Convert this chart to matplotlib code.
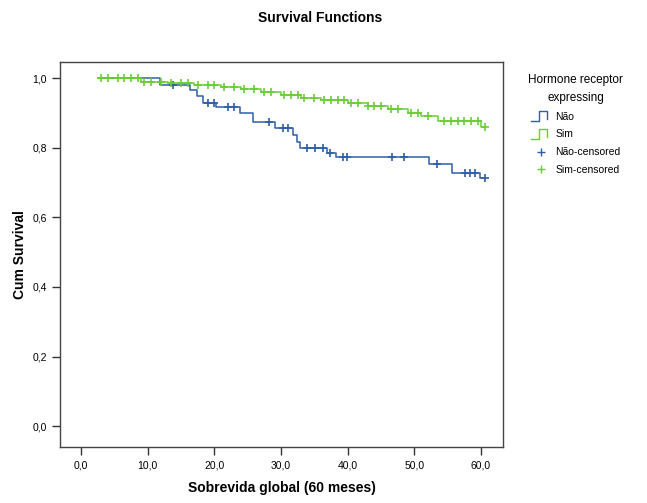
import numpy as np
import matplotlib
matplotlib.use('Agg')
import matplotlib.pyplot as plt
from matplotlib.lines import Line2D
from matplotlib.legend_handler import HandlerBase
from matplotlib.ticker import FuncFormatter

plt.rcParams['font.family'] = ['Liberation Sans', 'DejaVu Sans']

# Kaplan-Meier steps (time in months, cum survival)
nao_times = [2.7, 11.8, 16.3, 17.4, 18.3, 20.3, 23.8, 25.8, 29.1, 31.8, 32.4, 32.8,
             36.9, 38.2, 52.2, 55.6, 59.8, 60.6]
nao_surv = [1.0, 0.980, 0.966, 0.948, 0.928, 0.917, 0.899, 0.874, 0.856, 0.836, 0.816, 0.799,
            0.784, 0.772, 0.753, 0.727, 0.712, 0.712]
nao_censored = [13.8, 19.0, 20.0, 22.0, 23.0, 28.2, 30.3, 31.0, 33.9, 35.1, 36.3, 37.3,
                39.3, 39.9, 46.6, 48.4, 53.4, 57.6, 58.3, 59.1, 60.6]

sim_times = [2.7, 9.0, 13.0, 17.0, 21.0, 24.0, 27.0, 30.0, 33.0, 36.0, 40.0, 43.0,
             46.0, 49.0, 51.0, 53.5, 60.0, 60.6]
sim_surv = [1.0, 0.990, 0.985, 0.980, 0.975, 0.968, 0.960, 0.952, 0.944, 0.936, 0.928, 0.919,
            0.910, 0.900, 0.890, 0.876, 0.860, 0.860]
sim_censored = [3.0, 4.0, 5.5, 6.5, 7.5, 8.5, 9.5, 10.5, 12.0, 13.5, 15.0, 16.0, 17.5, 19.0,
                20.0, 21.5, 23.0, 24.5, 26.0, 27.5, 28.5, 30.5, 31.5, 32.5, 33.5, 35.0, 36.5,
                37.5, 38.5, 39.5, 40.5, 41.5, 43.0, 44.0, 45.0, 46.5, 47.5, 49.5, 50.5, 52.0,
                54.5, 55.5, 56.5, 57.5, 58.5, 59.5, 60.6]

BLUE = '#2f5ea8'
GREEN = '#6acd35'


def surv_at(times, surv, t):
    idx = np.searchsorted(times, t, side='right') - 1
    return np.asarray(surv)[idx]


class StepHandler(HandlerBase):
    def create_artists(self, legend, orig_handle, xdescent, ydescent, width, height, fontsize, trans):
        h = height * 1.2
        xs = [0, 0.4 * width, 0.4 * width, 0.85 * width, 0.85 * width]
        ys = [-0.2 * h, -0.2 * h, h, h, 0.1 * h]
        ln = Line2D(xs, ys, color=orig_handle.get_color(), lw=1.0, transform=trans)
        return [ln]


fig = plt.figure(figsize=(6.47, 5.03), dpi=100)
ax = fig.add_axes([0.0927, 0.1113, 0.6847, 0.7654])

for times, surv, cens, col in [(nao_times, nao_surv, nao_censored, BLUE),
                               (sim_times, sim_surv, sim_censored, GREEN)]:
    ax.step(times, surv, where='post', color=col, lw=1.1)
    ax.plot(cens, surv_at(times, surv, cens), linestyle='none', marker='+',
            color=col, markersize=6, mew=1.2)

ax.set_xlim(-3.15, 63.3)
ax.set_ylim(-0.06, 1.046)
ax.set_xticks(np.arange(0, 61, 10))
ax.set_yticks(np.arange(0, 1.01, 0.2))
comma = FuncFormatter(lambda v, p: f'{v:.1f}'.replace('.', ','))
ax.xaxis.set_major_formatter(comma)
ax.yaxis.set_major_formatter(comma)
ax.tick_params(direction='out', length=6, width=1.0, labelsize=7.5, color='#333333')
for sp in ax.spines.values():
    sp.set_color('#444444')
    sp.set_linewidth(1.0)

ax.set_xlabel('Sobrevida global (60 meses)', fontsize=10, fontweight='bold', labelpad=8)
ax.set_ylabel('Cum Survival', fontsize=10, fontweight='bold', labelpad=4)
fig.text(0.495, 0.965, 'Survival Functions', ha='center', va='center',
         fontsize=10, fontweight='bold')

handles = [Line2D([], [], color=BLUE), Line2D([], [], color=GREEN),
           Line2D([], [], color=BLUE, marker='+', linestyle='none', markersize=6),
           Line2D([], [], color=GREEN, marker='+', linestyle='none', markersize=6)]
labels = ['Não', 'Sim', 'Não-censored', 'Sim-censored']
leg = fig.legend(handles, labels, loc='upper left', bbox_to_anchor=(0.815, 0.855),
                 frameon=False, fontsize=7.5, title='Hormone receptor\nexpressing',
                 title_fontsize=8.5, handlelength=1.8, handletextpad=0.5,
                 labelspacing=0.75, borderaxespad=0, borderpad=0.1,
                 handler_map={handles[0]: StepHandler(), handles[1]: StepHandler()})
leg.get_title().set_multialignment('center')
leg.get_title().set_linespacing(1.65)

fig.savefig('out.png', dpi=100)
